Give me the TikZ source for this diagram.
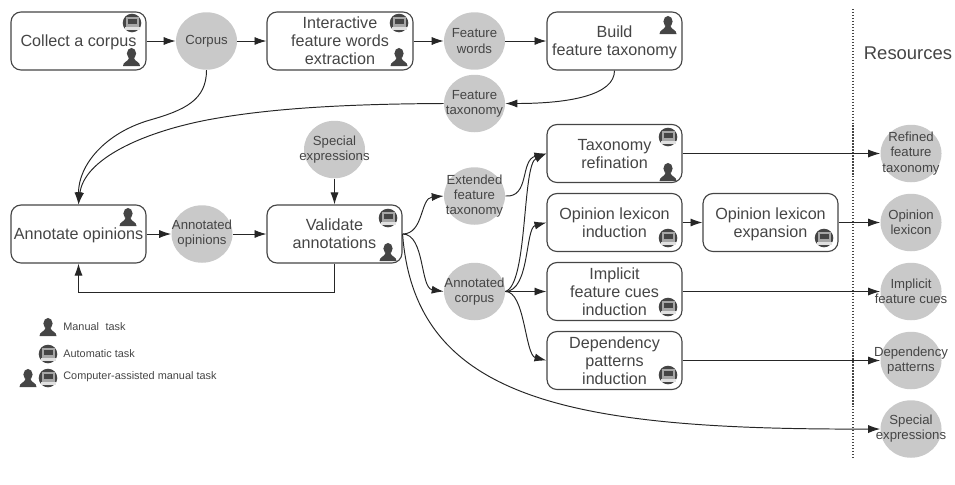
\documentclass[tikz,border=0pt]{standalone}
\usepackage{fontspec}
\setmainfont{Liberation Sans}
\usepackage{xcolor}
\usetikzlibrary{arrows.meta,shapes.geometric}
\definecolor{inkgray}{HTML}{454545}
\definecolor{blobgray}{HTML}{C9C9C9}
\tikzset{>={Latex[length=6.8pt,width=4.6pt]}}
\tikzset{
  taskbox/.style={draw=inkgray,line width=0.65pt,rounded corners=2mm,minimum width=2.7cm,minimum height=1.16cm,inner sep=0pt,text depth=0pt,align=center,text=inkgray,font=\fontsize{9.2}{10.3}\selectfont},
  datablob/.style={ellipse,fill=blobgray,minimum width=1.22cm,minimum height=1.15cm,inner sep=-1cm,align=center,text=inkgray,font=\fontsize{7.5}{8.6}\selectfont},
  flow/.style={->,draw=black!85,line width=0.55pt},
  legendtext/.style={anchor=west,inner sep=0pt,text=inkgray,font=\fontsize{6.2}{7}\selectfont},
  person/.pic={
    \fill[inkgray] (0,-3.5) ellipse [x radius=4.6,y radius=5.6];
    \fill[inkgray] (-8.5,9) .. controls (-8.5,4.5) and (-3.5,5) .. (-2.5,1) -- (2.5,1) .. controls (3.5,5) and (8.5,4.5) .. (8.5,9) -- cycle;
  },
  computer/.pic={
    \fill[inkgray] (0,0) circle (9.3);
    \fill[black!35] (-6.5,-6) rectangle (6.5,4);
    \fill[inkgray] (-4.5,-4) rectangle (4.5,1);
    \fill[black!12] (-7.5,4) rectangle (7.5,6.5);
  }
}

\begin{document}
\begin{tikzpicture}[x=0.02cm,y=-0.02cm]
  \useasboundingbox (0,0) rectangle (955,484);

  \node[taskbox] (collect) at (78.5,41) {Collect a corpus};
  \node[datablob] (corpus) at (206.5,41) {Corpus};
  \node[taskbox,minimum width=2.92cm] (extract) at (340,41) {Interactive\\feature words\\extraction};
  \node[datablob] (words) at (474.5,41) {Feature\\words};
  \node[taskbox] (build) at (614.5,41) {Build\\feature taxonomy};
  \node[datablob] (taxonomy) at (474.5,103.5) {Feature\\taxonomy};
  \node[datablob] (special) at (334.5,149.5) {Special\\expressions};
  \node[taskbox] (annotate) at (78.5,234) {Annotate opinions};
  \node[datablob] (opinions) at (202,234) {Annotated\\opinions};
  \node[taskbox] (validate) at (334.5,234) {Validate\\annotations};
  \node[datablob] (extended) at (474.5,196) {Extended\\feature\\taxonomy};
  \node[datablob] (annotated) at (474.5,291.5) {Annotated\\corpus};
  \node[taskbox] (refine) at (614.5,153.5) {Taxonomy\\refination};
  \node[taskbox] (induce) at (614.5,222.5) {Opinion lexicon\\induction};
  \node[taskbox] (expand) at (770.5,222.5) {Opinion lexicon\\expansion};
  \node[taskbox] (cues) at (614.5,291.5) {Implicit\\feature cues\\induction};
  \node[taskbox] (patterns) at (614.5,360.5) {Dependency\\patterns\\induction};
  \node[datablob] (outrefined) at (911,153.5) {Refined\\feature\\taxonomy};
  \node[datablob] (outlexicon) at (911,222.5) {Opinion\\lexicon};
  \node[datablob] (outcues) at (911,291.5) {Implicit\\feature cues};
  \node[datablob] (outpatterns) at (911,360.5) {Dependency\\patterns};
  \node[datablob] (outspecial) at (911,429) {Special\\expressions};
  \node[text=inkgray,inner sep=0pt,font=\fontsize{10.5}{12}\selectfont] (resources) at (908,53) {Resources};

  \coordinate (rtop) at (853,9);
  \coordinate (rbottom) at (853,460);
  \coordinate (corpusbend) at (150,120);
  \coordinate (taxonomybend) at (207,120);
  \draw[densely dotted,draw=inkgray,line width=0.7pt] (rtop) -- (rbottom);

  \draw[flow] (collect) -- (corpus);
  \draw[flow] (corpus) -- (extract);
  \draw[flow] (extract) -- (words);
  \draw[flow] (words) -- (build);
  \draw[flow] (build.south) .. controls (614.5,95) and (570,103.5) .. (taxonomy.east);
  \draw[flow] (taxonomy.west) .. controls (330,104) and (260,110) .. (taxonomybend) .. controls (140,133) and (84,160) .. (annotate.north);
  \draw[flow] (corpus.south) .. controls (206.5,100) and (185,110) .. (corpusbend) .. controls (105,133) and (78.5,165) .. (annotate.north);
  \draw[flow] (annotate) -- (opinions);
  \draw[flow] (opinions) -- (validate);
  \draw[flow] (special) -- (validate);
  \draw[flow] (validate.south) -- ++(0,29) -| (annotate.south);
  \draw[flow] (validate.east) .. controls (424,234) and (420,198) .. (extended.west);
  \draw[flow] (validate.east) .. controls (425,234) and (420,288) .. (annotated.west);
  \draw[flow] (validate.east) .. controls (415,400) and (570,430) .. (outspecial.west);
  \draw[flow] (extended.east) .. controls (530,198) and (520,160) .. (refine.west);
  \draw[flow] (annotated.east) .. controls (528,285) and (522,165) .. (refine.west);
  \draw[flow] (annotated.east) .. controls (530,291) and (525,228) .. (induce.west);
  \draw[flow] (annotated.east) -- (cues.west);
  \draw[flow] (annotated.east) .. controls (525,291) and (525,355) .. (patterns.west);
  \draw[flow] (refine) -- (outrefined);
  \draw[flow] (induce) -- (expand);
  \draw[flow] (expand) -- (outlexicon);
  \draw[flow] (cues) -- (outcues);
  \draw[flow] (patterns) -- (outpatterns);

  \pic at (132,23) {computer};
  \pic at (131.5,57) {person};
  \pic at (399,23) {computer};
  \pic at (399,57) {person};
  \pic at (668,25) {person};
  \pic at (128,217) {person};
  \pic at (388,218) {computer};
  \pic at (388,252) {person};
  \pic at (668,137) {computer};
  \pic at (668,172) {person};
  \pic at (668,238) {computer};
  \pic at (824,238) {computer};
  \pic at (668,307) {computer};
  \pic at (668,375) {computer};

  \pic at (48,327) {person};
  \pic at (48,354) {computer};
  \pic at (28,378) {person};
  \pic at (48,378) {computer};
  \node[legendtext] (manual) at (63,327) {Manual\hspace{0.6em}task};
  \node[legendtext] (automatic) at (63,354) {Automatic task};
  \node[legendtext] (assisted) at (63,377) {Computer-assisted manual task};
\end{tikzpicture}
\end{document}
